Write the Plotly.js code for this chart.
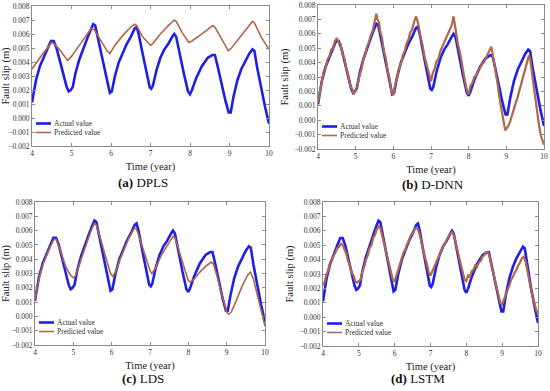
<!DOCTYPE html>
<html>
<head>
<meta charset="utf-8">
<script src="https://cdn.plot.ly/plotly-3.0.1.min.js"></script>
<style>html,body{margin:0;padding:0;background:#fff;}#chart{width:550px;height:391px;}</style>
</head>
<body>
<div id="chart"></div>
<script>
// ---------- data ----------
const panelCaptions = ['(a)|DPLS', '(b)|D-DNN', '(c)|LDS', '(d)|LSTM'];
const legendNames = ['Actual value', 'Predicted value'];
const yTickVals = [-0.002, -0.001, 0.000, 0.001, 0.002, 0.003, 0.004, 0.005, 0.006, 0.007, 0.008];
const xTickVals = [4, 5, 6, 7, 8, 9, 10];

const actualX = [4.00,4.10,4.20,4.30,4.40,4.48,4.55,4.62,4.75,4.88,4.93,4.98,5.03,5.10,5.20,5.30,5.40,5.50,5.55,5.60,5.70,5.80,5.90,5.97,6.02,6.10,6.20,6.30,6.40,6.50,6.60,6.65,6.70,6.80,6.90,6.98,7.02,7.06,7.15,7.25,7.35,7.45,7.55,7.60,7.65,7.75,7.85,7.95,8.00,8.05,8.15,8.30,8.45,8.57,8.63,8.70,8.80,8.90,8.98,9.03,9.10,9.20,9.30,9.40,9.50,9.58,9.63,9.70,9.80,9.90,10.00];
const actualY = [0.0011,0.0027,0.0037,0.0044,0.0050,0.0055,0.0055,0.0050,0.0036,0.0022,0.0019,0.0020,0.0022,0.0032,0.0042,0.0050,0.0057,0.0064,0.0067,0.0066,0.0053,0.0039,0.0026,0.0018,0.0019,0.0030,0.0040,0.0047,0.0053,0.0058,0.0064,0.0065,0.0060,0.0046,0.0033,0.0022,0.0021,0.0023,0.0034,0.0043,0.0049,0.0053,0.0058,0.0060,0.0058,0.0044,0.0031,0.0019,0.0017,0.0020,0.0028,0.0037,0.0043,0.0045,0.0045,0.0037,0.0024,0.0012,0.0004,0.0004,0.0015,0.0027,0.0035,0.0041,0.0046,0.0049,0.0048,0.0036,0.0021,0.0008,-0.0004];

const dplsX = [4.00,4.25,4.50,4.60,4.75,4.90,5.00,5.20,5.40,5.50,5.58,5.75,5.90,5.97,6.10,6.30,6.50,6.60,6.65,6.80,7.00,7.05,7.25,7.45,7.60,7.65,7.80,7.97,8.05,8.25,8.45,8.58,8.63,8.80,8.97,9.05,9.25,9.45,9.58,9.63,9.80,10.00];
const dplsY = [0.0035,0.0045,0.0054,0.0052,0.0047,0.0041,0.0044,0.0052,0.0060,0.0064,0.0063,0.0055,0.0048,0.0046,0.0052,0.0059,0.0065,0.0067,0.0066,0.0058,0.0052,0.0053,0.0060,0.0066,0.0070,0.0069,0.0061,0.0054,0.0055,0.0059,0.0063,0.0066,0.0065,0.0056,0.0048,0.0050,0.0057,0.0064,0.0069,0.0068,0.0058,0.0049];

const ddnnX = [4.00,4.05,4.10,4.15,4.20,4.25,4.30,4.35,4.40,4.45,4.50,4.55,4.60,4.65,4.70,4.75,4.80,4.85,4.90,4.95,5.00,5.05,5.10,5.15,5.20,5.25,5.30,5.35,5.40,5.45,5.50,5.55,5.58,5.62,5.65,5.70,5.75,5.80,5.85,5.90,5.95,6.00,6.05,6.10,6.15,6.20,6.25,6.30,6.35,6.40,6.45,6.50,6.55,6.60,6.63,6.67,6.72,6.77,6.82,6.87,6.92,6.97,7.00,7.05,7.10,7.15,7.20,7.25,7.30,7.35,7.40,7.45,7.50,7.55,7.60,7.63,7.67,7.72,7.77,7.82,7.87,7.92,7.97,8.00,8.05,8.10,8.15,8.20,8.25,8.30,8.35,8.40,8.45,8.50,8.55,8.60,8.63,8.67,8.72,8.77,8.82,8.87,8.92,8.97,9.00,9.05,9.10,9.15,9.20,9.25,9.30,9.35,9.40,9.45,9.50,9.55,9.60,9.63,9.67,9.72,9.77,9.82,9.87,9.92,9.97,10.00];
const ddnnY = [0.0012,0.0020,0.0026,0.0034,0.0036,0.0042,0.0044,0.0049,0.0050,0.0055,0.0057,0.0054,0.0053,0.0046,0.0043,0.0036,0.0032,0.0025,0.0022,0.0018,0.0021,0.0024,0.0031,0.0035,0.0042,0.0045,0.0051,0.0054,0.0059,0.0062,0.0068,0.0074,0.0070,0.0068,0.0062,0.0057,0.0048,0.0043,0.0034,0.0029,0.0019,0.0018,0.0025,0.0029,0.0036,0.0039,0.0045,0.0048,0.0053,0.0056,0.0061,0.0063,0.0068,0.0072,0.0070,0.0066,0.0058,0.0053,0.0045,0.0040,0.0033,0.0028,0.0027,0.0033,0.0036,0.0041,0.0043,0.0048,0.0051,0.0055,0.0057,0.0061,0.0063,0.0066,0.0072,0.0066,0.0061,0.0052,0.0047,0.0038,0.0032,0.0025,0.0019,0.0018,0.0024,0.0026,0.0030,0.0031,0.0035,0.0036,0.0039,0.0040,0.0043,0.0045,0.0048,0.0051,0.0047,0.0041,0.0032,0.0025,0.0015,0.0008,0.0000,-0.0007,-0.0006,-0.0004,-0.0001,0.0004,0.0007,0.0012,0.0016,0.0021,0.0025,0.0030,0.0034,0.0040,0.0045,0.0043,0.0035,0.0023,0.0015,0.0003,-0.0004,-0.0011,-0.0015,-0.0017];

const ldsX = [4.00,4.10,4.20,4.30,4.40,4.50,4.55,4.65,4.80,4.92,5.00,5.05,5.15,5.30,5.45,5.55,5.60,5.70,5.85,5.97,6.03,6.10,6.25,6.45,6.60,6.65,6.75,6.90,7.00,7.05,7.15,7.30,7.45,7.60,7.65,7.75,7.90,8.00,8.05,8.15,8.30,8.45,8.60,8.65,8.75,8.90,9.00,9.05,9.12,9.25,9.40,9.55,9.62,9.70,9.85,10.00];
const ldsY = [0.0012,0.0026,0.0036,0.0043,0.0049,0.0054,0.0054,0.0047,0.0035,0.0029,0.0027,0.0028,0.0036,0.0048,0.0059,0.0065,0.0064,0.0055,0.0040,0.0030,0.0028,0.0031,0.0042,0.0055,0.0062,0.0061,0.0053,0.0040,0.0032,0.0030,0.0034,0.0043,0.0050,0.0056,0.0055,0.0046,0.0033,0.0025,0.0024,0.0026,0.0031,0.0035,0.0038,0.0037,0.0028,0.0012,0.0003,0.00015,0.0003,0.0011,0.0021,0.0029,0.0031,0.0026,0.0009,-0.0007];

const lstmX = [4.00,4.05,4.10,4.15,4.20,4.25,4.30,4.35,4.40,4.45,4.50,4.55,4.60,4.65,4.70,4.75,4.80,4.85,4.90,4.95,5.00,5.05,5.10,5.15,5.20,5.25,5.30,5.35,5.40,5.45,5.50,5.55,5.60,5.65,5.70,5.75,5.80,5.85,5.90,5.95,6.00,6.05,6.10,6.15,6.20,6.25,6.30,6.35,6.40,6.45,6.50,6.55,6.60,6.65,6.70,6.75,6.80,6.85,6.90,6.95,7.00,7.05,7.10,7.15,7.20,7.25,7.30,7.35,7.40,7.45,7.50,7.55,7.60,7.65,7.70,7.75,7.80,7.85,7.90,7.95,8.00,8.05,8.10,8.15,8.20,8.25,8.30,8.35,8.40,8.45,8.50,8.55,8.60,8.65,8.70,8.75,8.80,8.85,8.90,8.95,9.00,9.05,9.10,9.15,9.20,9.25,9.30,9.35,9.40,9.45,9.50,9.55,9.60,9.65,9.70,9.75,9.80,9.85,9.90,9.95,10.00];
const lstmY = [0.0022,0.0025,0.0030,0.0033,0.0038,0.0040,0.0043,0.0045,0.0048,0.0049,0.0051,0.0050,0.0047,0.0044,0.0039,0.0036,0.0031,0.0029,0.0025,0.0024,0.0025,0.0026,0.0032,0.0035,0.0040,0.0043,0.0048,0.0050,0.0055,0.0057,0.0061,0.0063,0.0062,0.0057,0.0052,0.0046,0.0041,0.0035,0.0030,0.0026,0.0025,0.0029,0.0032,0.0037,0.0040,0.0045,0.0047,0.0051,0.0053,0.0057,0.0058,0.0061,0.0062,0.0061,0.0057,0.0051,0.0047,0.0041,0.0037,0.0031,0.0029,0.0032,0.0035,0.0038,0.0041,0.0044,0.0046,0.0049,0.0051,0.0054,0.0056,0.0058,0.0059,0.0057,0.0052,0.0046,0.0041,0.0035,0.0031,0.0026,0.0025,0.0029,0.0028,0.0032,0.0033,0.0036,0.0035,0.0038,0.0039,0.0042,0.0043,0.0045,0.0045,0.0042,0.0036,0.0031,0.0025,0.0020,0.0014,0.0010,0.0009,0.0012,0.0015,0.0019,0.0022,0.0026,0.0028,0.0031,0.0033,0.0036,0.0038,0.0041,0.0042,0.0039,0.0032,0.0026,0.0020,0.0014,0.0009,0.0005,0.0003];

const predSeries = [[dplsX, dplsY], [ddnnX, ddnnY], [ldsX, ldsY], [lstmX, lstmY]];

// ---------- layout geometry (pixels) ----------
const W = 550, H = 391;
const boxes = [
  {l: 32, r: 269, t: 6, b: 146, capX: 143, capY: 183, predW: 1.6},
  {l: 318, r: 544, t: 5, b: 149, capX: 433, capY: 184, predW: 2.2},
  {l: 35, r: 265, t: 202, b: 345, capX: 143, capY: 378, predW: 1.6},
  {l: 323, r: 538, t: 202, b: 346, capX: 418, capY: 378, predW: 2.2}
];
const px = v => v / W, py = v => 1 - v / H;

const BLUE = '#1f1fe6', BROWN = '#b0674a';
const FONT = 'Liberation Serif';

const data = [];
const layout = {
  width: W, height: H,
  margin: {l: 0, r: 0, t: 0, b: 0},
  paper_bgcolor: '#fff', plot_bgcolor: '#fff',
  showlegend: false,
  font: {family: FONT, color: '#222'},
  shapes: [], annotations: []
};

boxes.forEach((bx, i) => {
  const n = i + 1;
  const xa = n === 1 ? 'x' : 'x' + n;
  const ya = n === 1 ? 'y' : 'y' + n;
  const xk = n === 1 ? 'xaxis' : 'xaxis' + n;
  const yk = n === 1 ? 'yaxis' : 'yaxis' + n;

  data.push({x: actualX, y: actualY, type: 'scatter', mode: 'lines', name: legendNames[0],
    xaxis: xa, yaxis: ya, line: {color: BLUE, width: 2.6}});
  data.push({x: predSeries[i][0], y: predSeries[i][1], type: 'scatter', mode: 'lines', name: legendNames[1],
    xaxis: xa, yaxis: ya, line: {color: BROWN, width: bx.predW}});

  const common = {
    showline: true, mirror: 'ticks', linecolor: '#8a8a8a', linewidth: 1,
    ticks: 'inside', ticklen: 3, tickcolor: '#8a8a8a', tickwidth: 1,
    showgrid: false, zeroline: false, fixedrange: true,
    tickfont: {family: FONT, size: 7.5, color: '#333'}
  };
  layout[xk] = Object.assign({}, common, {
    domain: [px(bx.l), px(bx.r)], anchor: ya, range: [4, 10],
    tickvals: xTickVals, ticktext: xTickVals.map(String),
    title: {text: 'Time (year)', font: {family: FONT, size: 10.5, color: '#222'}, standoff: 5}
  });
  layout[yk] = Object.assign({}, common, {
    domain: [py(bx.b), py(bx.t)], anchor: xa, range: [-0.002, 0.008],
    tickvals: yTickVals, tickformat: '.3f',
    title: {text: 'Fault slip (m)', font: {family: FONT, size: 10.5, color: '#222'}, standoff: 3}
  });

  // legend (inside, lower-left)
  const rows = [bx.b - 22.5, bx.b - 13.5];
  const cols = [BLUE, BROWN], widths = [2.6, 1.6];
  rows.forEach((ry, k) => {
    layout.shapes.push({type: 'line', xref: 'paper', yref: 'paper',
      x0: px(bx.l + 4), x1: px(bx.l + 19), y0: py(ry), y1: py(ry),
      line: {color: cols[k], width: widths[k]}});
    layout.annotations.push({xref: 'paper', yref: 'paper', x: px(bx.l + 20), y: py(ry),
      xanchor: 'left', yanchor: 'middle', showarrow: false, text: legendNames[k],
      font: {family: FONT, size: 7.5, color: '#333'}});
  });

  const cap = panelCaptions[i].split('|');
  layout.annotations.push({xref: 'paper', yref: 'paper', x: px(bx.capX), y: py(bx.capY),
    xanchor: 'center', yanchor: 'middle', showarrow: false,
    text: '<b>' + cap[0] + '</b> ' + cap[1],
    font: {family: FONT, size: 13, color: '#111'}});
});

Plotly.newPlot('chart', data, layout, {staticPlot: true, displayModeBar: false});
</script>
</body>
</html>
